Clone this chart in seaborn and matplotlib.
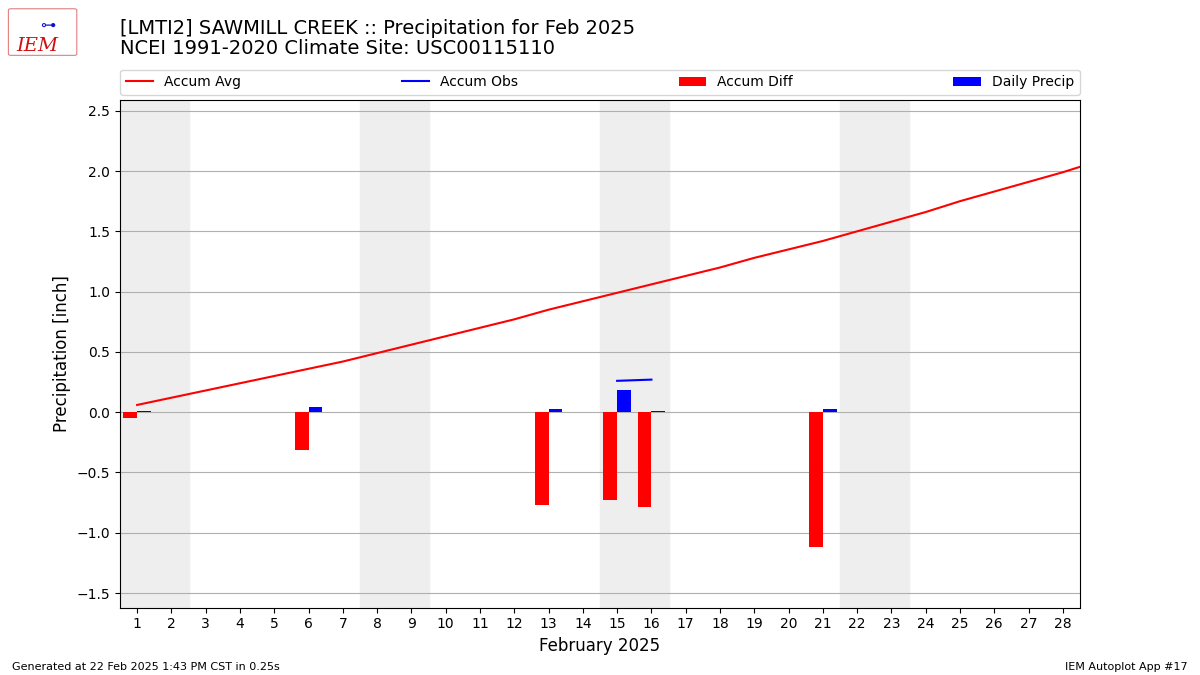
import numpy as np
import pandas as pd
import matplotlib
matplotlib.use('Agg')
import matplotlib.pyplot as plt
from matplotlib.patches import FancyBboxPatch
import seaborn as sns

# days of Feb 2025 (29 = Mar 1, only to carry the avg line to the edge)
days = list(range(1, 30))
accum_avg = [0.06, 0.12, 0.18, 0.24, 0.30, 0.36, 0.42, 0.49, 0.56, 0.63,
             0.70, 0.77, 0.85, 0.92, 0.99, 1.06, 1.13, 1.20, 1.28, 1.35,
             1.42, 1.50, 1.58, 1.66, 1.75, 1.83, 1.91, 1.99, 2.08]

# obs days only (missing days are NaN)
obs_days = [1, 6, 13, 15, 16, 21]
daily_precip = [0.01, 0.04, 0.03, 0.18, 0.01, 0.03]
accum_obs = [0.01, 0.05, 0.08, 0.26, 0.27, 0.30]
accum_diff = [-0.05, -0.31, -0.77, -0.73, -0.79, -1.12]

weekends = [(1, 2), (8, 9), (15, 16), (22, 23)]

df_avg = pd.DataFrame({'day': days, 'avg': accum_avg})
obs_full = pd.Series(np.nan, index=range(1, 29))
obs_full.loc[obs_days] = accum_obs

fig = plt.figure(figsize=(12, 6.75), dpi=100)
ax = fig.add_axes([0.1, 0.1, 0.8, 0.752])

for a, b in weekends:
    ax.axvspan(a - 0.5, b + 0.5, color='#eeeeee', zorder=0)

sns.lineplot(data=df_avg, x='day', y='avg', color='red', lw=1.5,
             label='Accum Avg', ax=ax, zorder=3)
# plain plot so NaN days break the line
ax.plot(obs_full.index, obs_full.values, color='blue', lw=1.5,
        label='Accum Obs', zorder=3)
ax.bar(np.array(obs_days) - 0.2, accum_diff, width=0.4, color='red',
       label='Accum Diff', zorder=2)
ax.bar(np.array(obs_days) + 0.2, daily_precip, width=0.4, color='blue',
       label='Daily Precip', zorder=2)

ax.set_xlim(0.5, 28.5)
ax.set_ylim(-1.62, 2.59)
ax.set_xticks(range(1, 29))
ax.set_yticks(np.arange(-1.5, 2.51, 0.5))
ax.yaxis.grid(True, color='#b0b0b0', lw=0.8)
ax.set_axisbelow(True)
ax.set_xlabel('February 2025', fontsize=12)
ax.set_ylabel('Precipitation [inch]', fontsize=12)

ax.legend(loc='lower left', bbox_to_anchor=(0, 1.01, 1, 0.05), mode='expand',
          ncol=4, fontsize=10, borderaxespad=0)

fig.text(0.1, 0.943, '[LMTI2] SAWMILL CREEK :: Precipitation for Feb 2025\n'
         'NCEI 1991-2020 Climate Site: USC00115110', fontsize=14,
         ha='left', va='center', linespacing=1.05)

# logo, rough outline + text
fig.patches.append(FancyBboxPatch((0.009, 0.92), 0.053, 0.065,
                                  boxstyle='round,pad=0.002', fc='none',
                                  ec='#e08080', lw=0.8,
                                  transform=fig.transFigure, figure=fig))
fig.text(0.031, 0.932, 'IEM', fontsize=14, color='#d01010', style='italic',
         family='serif', ha='center', va='center')
fig.text(0.04, 0.963, '⊶', fontsize=11, color='#1010d0', ha='center',
         va='center')

fig.text(0.01, 0.008, 'Generated at 22 Feb 2025 1:43 PM CST in 0.25s', fontsize=8)
fig.text(0.99, 0.008, 'IEM Autoplot App #17', fontsize=8, ha='right')

fig.savefig('out.png', dpi=100)
